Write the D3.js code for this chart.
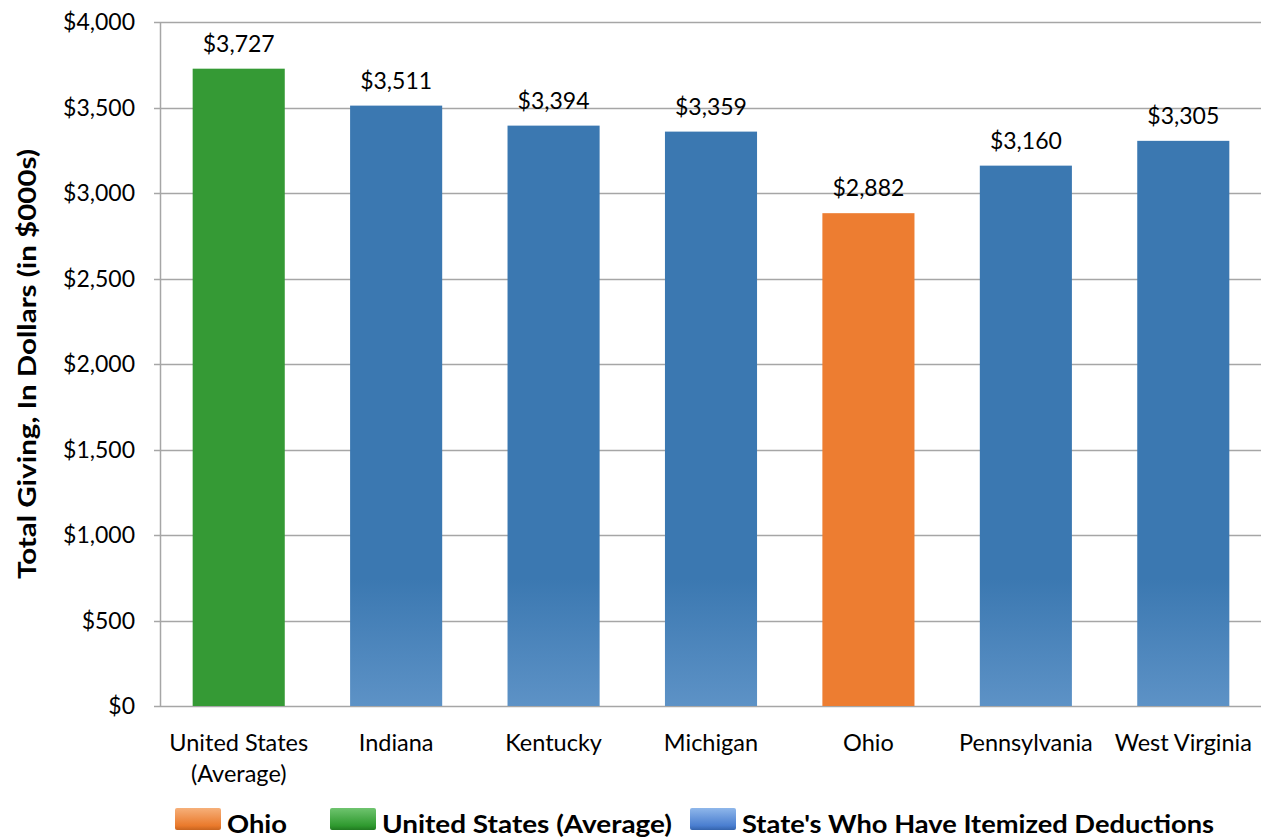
<!DOCTYPE html>
<html>
<head>
<meta charset="utf-8">
<script src="https://cdn.jsdelivr.net/npm/d3@7"></script>
<style>
body { margin: 0; background: #fff; }
text { font-family: Lato, "Open Sans", sans-serif; fill: #000; }
</style>
</head>
<body>
<script>
var w = 1261, h = 838;

var categories = ["United States|(Average)", "Indiana", "Kentucky", "Michigan", "Ohio", "Pennsylvania", "West Virginia"];
var values = [3727, 3511, 3394, 3359, 2882, 3160, 3305];
var groups = ["us", "state", "state", "state", "ohio", "state", "state"];
var yTicks = [0, 500, 1000, 1500, 2000, 2500, 3000, 3500, 4000];
var legendNames = ["Ohio", "United States (Average)", "State's Who Have Itemized Deductions"];
var legendKeys = ["ohio", "us", "state"];

var margin = {top: 22, right: 0, bottom: 132, left: 160};

var svg = d3.select("body").append("svg")
  .attr("width", w)
  .attr("height", h);

var defs = svg.append("defs");
function grad(id, top, mid, bottom) {
  var g = defs.append("linearGradient").attr("id", id)
    .attr("x1", 0).attr("y1", 0).attr("x2", 0).attr("y2", 1);
  g.append("stop").attr("offset", "0%").attr("stop-color", top);
  g.append("stop").attr("offset", "80%").attr("stop-color", mid);
  g.append("stop").attr("offset", "100%").attr("stop-color", bottom);
}
// blue bars get lighter near the base
var barG = defs.append("linearGradient").attr("id", "barState")
  .attr("gradientUnits", "userSpaceOnUse")
  .attr("x1", 0).attr("y1", 0).attr("x2", 0).attr("y2", h - margin.bottom);
barG.append("stop").attr("offset", "0%").attr("stop-color", "#3b78b1");
barG.append("stop").attr("offset", "82%").attr("stop-color", "#3b78b1");
barG.append("stop").attr("offset", "100%").attr("stop-color", "#5d92c6");

grad("legOhio", "#f6b07a", "#ea7a2c", "#c8641f");
grad("legUs", "#6fc46f", "#2f9a2f", "#217a21");
grad("legState", "#8fb7ea", "#4a7ed0", "#3463ac");

var fills = {us: "#359a35", ohio: "#ed7d31", state: "url(#barState)"};
var legFills = {ohio: "url(#legOhio)", us: "url(#legUs)", state: "url(#legState)"};

var x = d3.scaleBand()
  .domain(categories)
  .range([margin.left, w - margin.right + 1])
  .paddingInner(0.415)
  .paddingOuter(0.2075);

var y = d3.scaleLinear()
  .domain([0, 4000])
  .range([h - margin.bottom, margin.top]);

// gridlines
svg.append("g").selectAll("line").data(yTicks).enter()
  .append("line")
  .attr("x1", margin.left - 6)
  .attr("x2", w - margin.right)
  .attr("y1", function(d) { return Math.round(y(d)) + 0.5; })
  .attr("y2", function(d) { return Math.round(y(d)) + 0.5; })
  .attr("stroke", "#a6a6a6")
  .attr("stroke-width", 1.3);

// y axis line
svg.append("line")
  .attr("x1", margin.left + 0.5).attr("x2", margin.left + 0.5)
  .attr("y1", y(4000)).attr("y2", y(0))
  .attr("stroke", "#a6a6a6").attr("stroke-width", 1.5);

// y tick labels
svg.append("g").selectAll("text").data(yTicks).enter()
  .append("text")
  .attr("x", margin.left - 25)
  .attr("y", function(d) { return y(d); })
  .attr("dy", "0.35em")
  .attr("text-anchor", "end")
  .style("font-size", "23px")
  .text(function(d) { return "$" + d3.format(",")(d); });

// y axis title
svg.append("text")
  .attr("transform", "translate(36," + ((y(0) + y(4000)) / 2) + ") rotate(-90)")
  .attr("text-anchor", "middle")
  .style("font-size", "25px")
  .style("font-weight", "bold")
  .attr("textLength", 430)
  .attr("lengthAdjust", "spacingAndGlyphs")
  .text("Total Giving, In Dollars (in $000s)");

// bars
svg.append("g").selectAll("rect").data(values).enter()
  .append("rect")
  .attr("x", function(d, i) { return x(categories[i]); })
  .attr("width", x.bandwidth())
  .attr("y", function(d) { return y(d); })
  .attr("height", function(d) { return y(0) - y(d); })
  .attr("fill", function(d, i) { return fills[groups[i]]; });

// value labels
svg.append("g").selectAll("text").data(values).enter()
  .append("text")
  .attr("x", function(d, i) { return x(categories[i]) + x.bandwidth() / 2; })
  .attr("y", function(d) { return y(d) - 17; })
  .attr("text-anchor", "middle")
  .style("font-size", "23px")
  .text(function(d) { return "$" + d3.format(",")(d); });

// category labels
var cl = svg.append("g").selectAll("text").data(categories).enter()
  .append("text")
  .attr("x", function(d) { return x(d) + x.bandwidth() / 2; })
  .attr("y", y(0) + 45)
  .attr("text-anchor", "middle")
  .style("font-size", "23.5px");
cl.selectAll("tspan").data(function(d) { return d.split("|"); }).enter()
  .append("tspan")
  .attr("x", function() { return d3.select(this.parentNode).attr("x"); })
  .attr("dy", function(d, i) { return i ? 31 : 0; })
  .text(function(d) { return d; });

// legend
var legX = [175, 330, 690];
var legTextW = [60, 290, 472];
var leg = svg.append("g").selectAll("g").data(legendKeys).enter()
  .append("g")
  .attr("transform", function(d, i) { return "translate(" + legX[i] + ",808)"; });
leg.append("rect")
  .attr("width", 46).attr("height", 22).attr("rx", 2)
  .attr("fill", function(d) { return legFills[d]; });
leg.append("text")
  .attr("x", 52).attr("y", 25)
  .style("font-size", "24px")
  .style("font-weight", "bold")
  .attr("textLength", function(d, i) { return legTextW[i]; })
  .attr("lengthAdjust", "spacingAndGlyphs")
  .text(function(d, i) { return legendNames[i]; });
</script>
</body>
</html>
